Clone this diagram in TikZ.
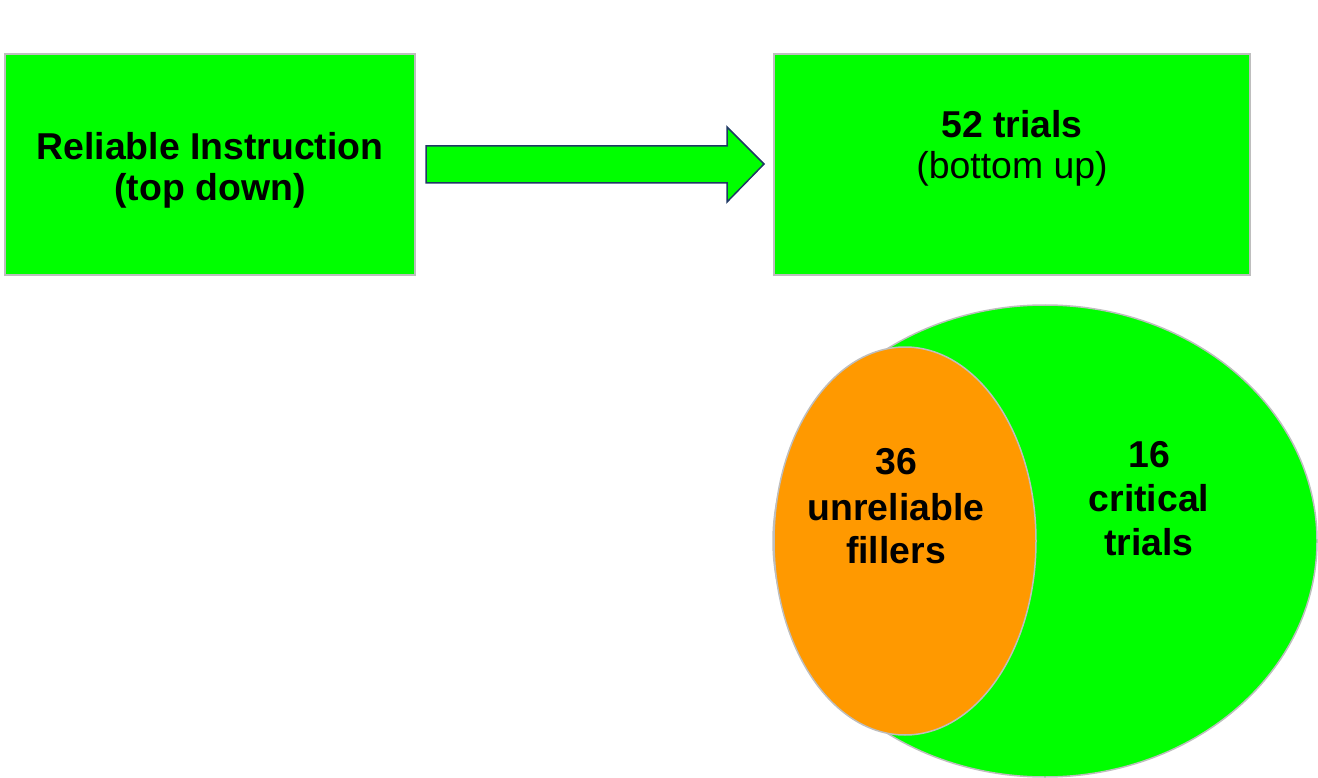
\documentclass[tikz,border=0pt]{standalone}
\usepackage{fontspec}
\setmainfont{Liberation Sans}
\definecolor{brightgreen}{RGB}{0,255,0}
\definecolor{vorange}{RGB}{255,153,0}
\definecolor{edgegray}{RGB}{190,190,190}
\definecolor{navy}{RGB}{31,56,100}
\begin{document}
\begin{tikzpicture}[x=1pt,y=-1pt,
  gbox/.style={draw=edgegray,line width=1.5pt,fill=brightgreen},
  lbl/.style={align=center,font=\fontsize{37.4}{45}\selectfont\bfseries,inner sep=0pt},
  lblr/.style={align=center,font=\fontsize{37.4}{45}\selectfont,inner sep=0pt}]
\useasboundingbox (0,0) rectangle (1318,778);
% boxes
\draw[gbox] (5,54) rectangle (415,275);
\draw[gbox] (774,54) rectangle (1250,275);
\node[lbl] (t1) at (210,146) {Reliable Instruction};
\node[lbl] (t2) at (210,191) {(top down)};
\node[lbl] (t3) at (1012,124) {52 trials};
\node[lblr] (t4) at (1012,169) {(bottom up)};
% block arrow
\draw[navy,line width=1.5pt,fill=brightgreen,line join=miter]
  (426,146) -- (727,146) -- (727,127) -- (764,164) -- (727,202) -- (727,183) -- (426,183) -- cycle;
% ellipses
\draw[draw=edgegray,line width=1.5pt,fill=brightgreen] (1045,541) ellipse [x radius=272,y radius=236];
\draw[draw=edgegray,line width=1.5pt,fill=vorange] (905,541) ellipse [x radius=131,y radius=194];
\node[lbl] (a1) at (896,462) {36};
\node[lbl] (a2) at (896,507) {unreliable};
\node[lbl] (a3) at (896,550) {fillers};
\node[lbl] (b1) at (1149,455) {16};
\node[lbl] (b2) at (1149,498) {critical};
\node[lbl] (b3) at (1149,542) {trials};
\end{tikzpicture}
\end{document}
